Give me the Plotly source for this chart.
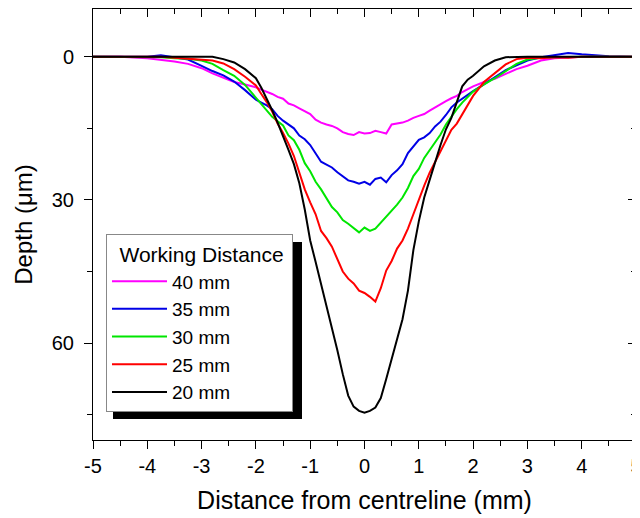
import plotly.graph_objects as go

X_MM = [-5.0, -4.5, -4.0, -3.75, -3.5, -3.25, -3.0, -2.8, -2.6, -2.4, -2.2,
        -2.0, -1.9, -1.8, -1.7, -1.6, -1.5, -1.4, -1.3, -1.2, -1.1,
        -1.0, -0.9, -0.8, -0.7, -0.6, -0.5, -0.4, -0.3, -0.2, -0.1,
        0.0, 0.1, 0.2, 0.3, 0.4, 0.5, 0.6, 0.7, 0.8, 0.9,
        1.0, 1.1, 1.2, 1.3, 1.4, 1.5, 1.6, 1.7, 1.8, 1.9, 2.0,
        2.2, 2.4, 2.6, 2.8, 3.0, 3.25, 3.5, 3.75, 4.0, 4.5, 5.0]

WD_40 = [0, 0, 0.3, 0.6, 1.0, 1.5, 2.4, 3.5, 4.4, 5.3, 5.8,
         6.4, 6.9, 7.3, 7.8, 8.4, 8.8, 9.8, 10.2, 10.8, 11.4,
         12.0, 13.2, 13.8, 14.2, 14.5, 15.0, 15.8, 16.2, 16.4, 15.8,
         16.1, 16.0, 15.5, 15.8, 16.1, 14.2, 14.0, 13.8, 13.4, 12.8,
         12.4, 12.0, 11.3, 10.6, 10.0, 9.3, 8.7, 8.2, 7.4, 6.8, 6.2,
         5.3, 4.6, 3.6, 2.6, 1.9, 0.8, 0.3, 0.1, 0, 0, 0]

WD_35 = [0, 0, 0, -0.3, 0.1, 0.6, 1.9, 3.0, 3.9, 5.2, 7.0,
         9.0, 9.6, 10.2, 11.0, 12.4, 13.4, 14.2, 15.0, 16.5, 17.3,
         18.5, 20.2, 22.0, 22.6, 23.2, 24.2, 25.0, 25.9, 26.2, 26.6,
         26.2, 26.8, 25.6, 25.3, 26.3, 24.8, 23.8, 22.5, 20.2, 18.8,
         17.4, 16.9, 16.0, 14.6, 13.6, 12.2, 10.6, 9.6, 8.8, 8.0, 7.2,
         5.8, 4.3, 2.8, 1.8, 0.8, 0.1, -0.4, -0.8, -0.5, -0.1, 0]

WD_30 = [0, 0, 0, 0.1, 0.3, 0.4, 0.8, 1.5, 2.8, 4.0, 5.9,
         8.5, 9.8, 11.2, 12.6, 13.5, 14.4, 16.5, 17.5, 19.5, 22.3,
         24.0, 26.2, 27.8, 29.8, 31.5, 32.6, 34.2, 35.0, 36.0, 36.8,
         35.8, 36.5, 36.0, 34.8, 33.5, 32.3, 31.0, 29.5, 27.5, 25.0,
         23.5, 21.2, 19.5, 18.0, 16.3, 14.2, 12.5, 11.0, 9.6, 8.4, 7.3,
         5.8, 4.5, 3.0, 1.5, 0.6, 0.2, 0.1, 0, 0, 0, 0]

WD_25 = [0, 0, 0, 0, 0.2, 0.4, 0.6, 0.8, 1.4, 2.6, 4.2,
         6.0, 7.8, 9.5, 11.5, 14.0, 16.0, 18.2, 20.8, 24.5, 27.8,
         30.5, 33.0, 36.5, 38.0, 39.8, 42.5, 45.0, 46.5, 47.5, 49.0,
         49.5, 50.3, 51.3, 48.5, 44.8, 42.8, 40.2, 38.5, 36.0, 33.0,
         29.8, 27.0, 24.3, 22.0, 19.8, 17.5, 15.3, 14.0, 12.0, 10.0, 8.2,
         5.3, 3.5, 1.6, 0.5, 0.2, 0.3, 0.1, 0.2, 0, 0, 0]

WD_20 = [0, 0, 0, 0, 0, 0, 0, 0, 0.5, 1.2, 2.6,
         4.5, 6.5, 8.8, 11.2, 13.8, 16.5, 19.5, 22.5, 26.5, 32.0,
         38.5, 43.0, 47.5, 52.0, 57.0, 61.5, 66.5, 71.0, 73.3, 74.2,
         74.6, 74.2, 73.5, 71.5, 67.5, 63.5, 59.5, 55.0, 49.0, 40.5,
         34.5, 29.5, 25.8, 22.0, 18.5, 15.2, 12.8, 9.5, 6.2, 4.8, 4.0,
         2.0, 0.8, 0.1, 0, 0, 0, 0, 0, 0, 0, 0]

SERIES_NAMES = ["40 mm", "35 mm", "30 mm", "25 mm", "20 mm"]
SERIES_VALUES = [WD_40, WD_35, WD_30, WD_25, WD_20]
SERIES_COLORS = ["#FF00FF", "#0000E6", "#00E600", "#FF0000", "#000000"]

X_TICKS = [-5, -4, -3, -2, -1, 0, 1, 2, 3, 4, 5]
X_TICK_LABELS = ["-5", "-4", "-3", "-2", "-1", "0", "1", "2", "3", "4", "5"]
Y_TICKS = [0, 30, 60]
Y_TICK_LABELS = ["0", "30", "60"]

FONT = "Liberation Sans, Arial, sans-serif"

fig = go.Figure()
for name, vals, col in zip(SERIES_NAMES, SERIES_VALUES, SERIES_COLORS):
    fig.add_trace(go.Scatter(x=X_MM, y=vals, mode="lines", name=name,
                             line=dict(color=col, width=2)))

# helper trace for the top/right axes (inward ticks)
fig.add_trace(go.Scatter(x=[None], y=[None], xaxis="x2", yaxis="y2",
                         showlegend=False, hoverinfo="skip"))

XR = [-5, 5]
YR = [80.3, -10]

# page has an 8px body margin: plot area targets page px 93..636 x 9..440
PW, PH = 543.0, 431.0


def px_x(p):
    return (p - 93) / PW


def px_y(p):
    return (440 - p) / PH


fig.update_layout(
    width=632, height=510,
    margin=dict(l=85, r=4, t=1, b=78, autoexpand=False),
    paper_bgcolor="white", plot_bgcolor="white",
    font=dict(family=FONT, size=20, color="black"),
    showlegend=True,
    legend=dict(
        title=dict(text="\u2002Working Distance\u00a0", font=dict(size=21)),
        x=px_x(106), y=px_y(234), xanchor="left", yanchor="top",
        bgcolor="white", bordercolor="#888888", borderwidth=1,
        font=dict(size=19), tracegroupgap=0, itemwidth=55,
    ),
    xaxis=dict(
        range=XR, tickvals=X_TICKS, ticktext=X_TICK_LABELS, ticks="outside",
        ticklen=8, tickwidth=1, automargin=False, ticklabeloverflow="allow",
        tickcolor="black", showline=True, linecolor="black", linewidth=1,
        mirror=True, showgrid=False, zeroline=False,
        minor=dict(dtick=0.5, ticks="outside", ticklen=5, tickcolor="black", showgrid=False),
        title=dict(text="Distance from centreline (mm)", font=dict(size=25), standoff=15),
        tickfont=dict(size=20),
    ),
    yaxis=dict(
        range=YR, tickvals=Y_TICKS, ticktext=Y_TICK_LABELS, ticks="outside",
        ticklen=8, tickwidth=1, automargin=False, ticklabeloverflow="allow",
        ticklabelstandoff=6,
        tickcolor="black", showline=True, linecolor="black", linewidth=1,
        mirror=True, showgrid=False, zeroline=False,
        minor=dict(dtick=15, tick0=0, ticks="outside", ticklen=5, tickcolor="black", showgrid=False),
        title=dict(text="Depth (μm)", font=dict(size=24), standoff=12),
        tickfont=dict(size=20),
    ),
    xaxis2=dict(
        overlaying="x", side="top", range=XR, tickvals=X_TICKS, ticks="inside",
        ticklen=8, tickcolor="black", showticklabels=False, showgrid=False,
        zeroline=False, showline=False, automargin=False,
        minor=dict(dtick=0.5, ticks="inside", ticklen=5, tickcolor="black", showgrid=False),
    ),
    yaxis2=dict(
        overlaying="y", side="right", range=YR, tickvals=Y_TICKS, ticks="inside",
        ticklen=8, tickcolor="black", showticklabels=False, showgrid=False,
        zeroline=False, showline=False, automargin=False,
        minor=dict(dtick=15, tick0=0, ticks="inside", ticklen=5, tickcolor="black", showgrid=False),
    ),
)

# legend drop shadow
fig.add_shape(type="rect", xref="paper", yref="paper",
              x0=px_x(113), x1=px_x(302), y0=px_y(419), y1=px_y(242),
              fillcolor="black", line=dict(width=0), layer="above")

fig.write_html("out.html")
